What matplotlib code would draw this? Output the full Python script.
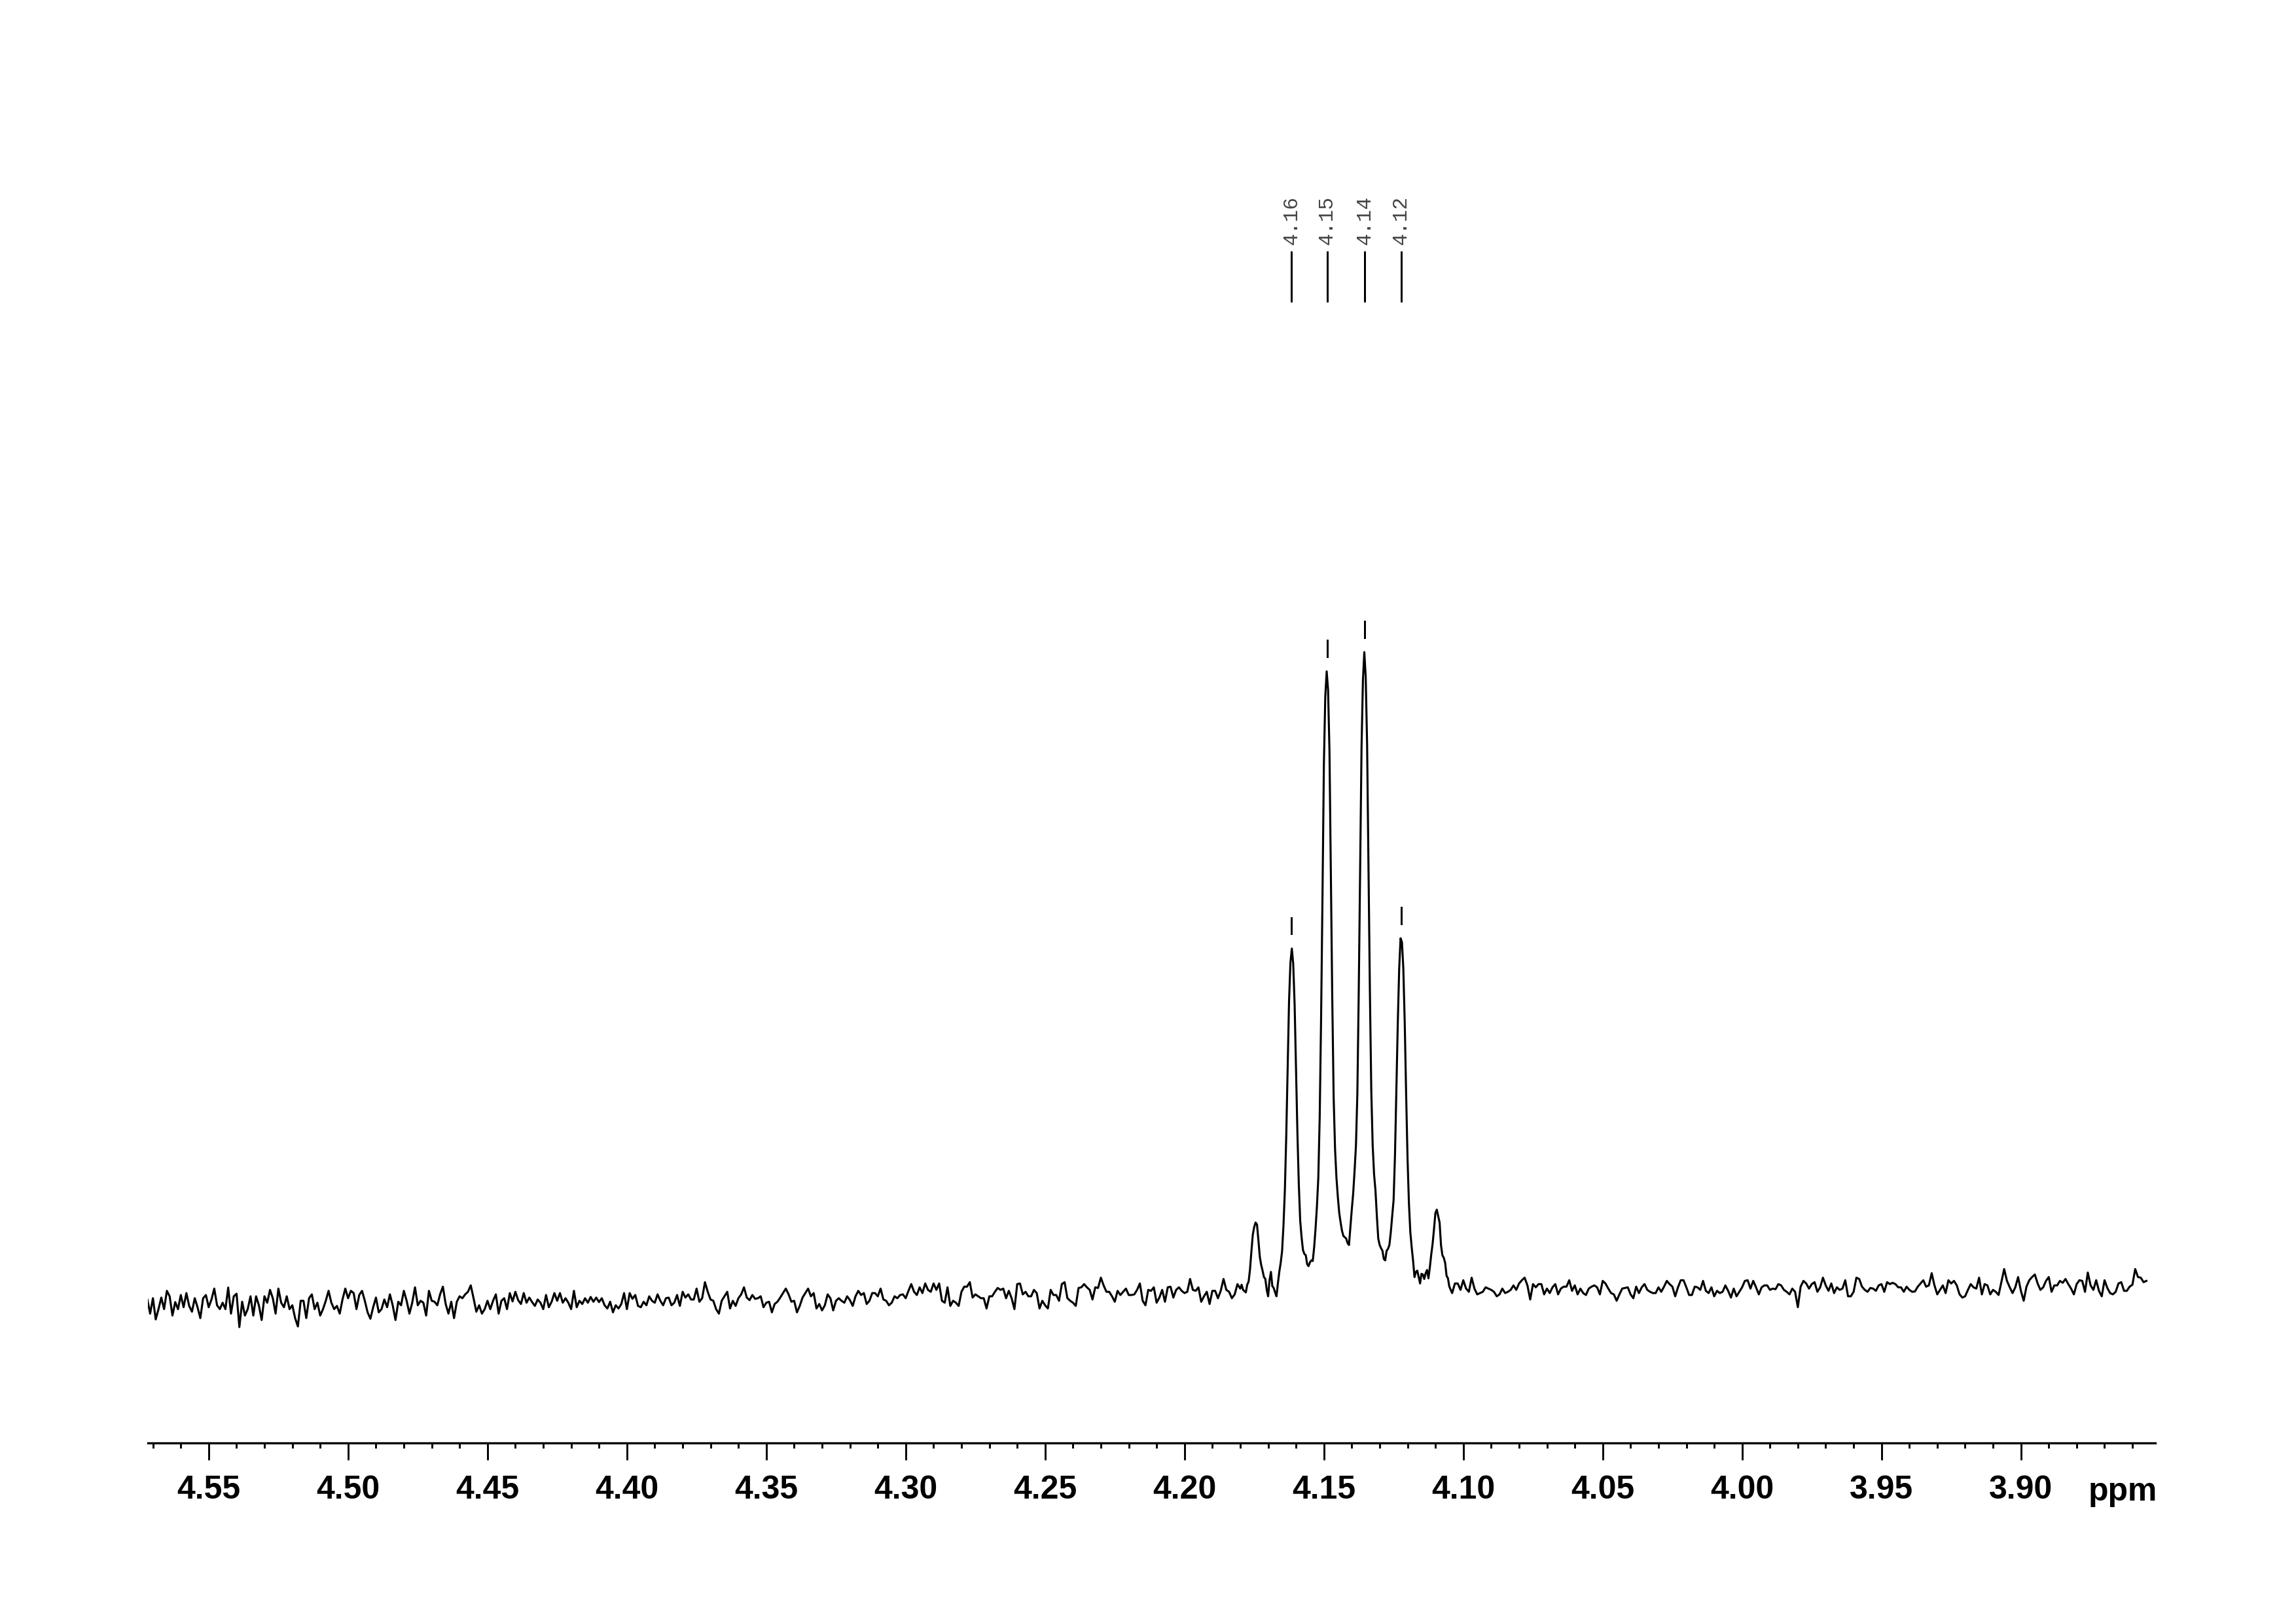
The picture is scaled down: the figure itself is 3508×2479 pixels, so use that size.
import numpy as np
import matplotlib
matplotlib.use("Agg")
import matplotlib.pyplot as plt
from matplotlib.ticker import MultipleLocator, FormatStrFormatter

# 1H NMR trace, intensity in arbitrary units (tallest line ~100)

# left baseline, 4.572 -> 4.181 ppm, one point every 0.001 ppm
left_start, left_step = 4.572, 0.001
left_int = [
    -0.5, -2.7, -0.3, -3.6, -2.0, -0.2, -2.0, 0.85, 0.0, -3.0,
    -0.9, -2.0, 0.2, -1.7, 0.5, -1.5, -2.4, -0.3, -1.7, -3.4,
    -0.3, 0.2, -1.7, -0.5, 1.2, -1.4, -2.0, -1.0, -2.0, 1.36,
    -2.7, 0.0, 0.4, -4.8, -0.85, -3.0, -2.0, 0.0, -3.0, 0.0,
    -1.4, -3.7, 0.0, -1.0, 1.0, -0.3, -2.7, 1.2, -1.0, -1.7,
    0.0, -2.0, -1.4, -3.4, -4.7, -0.7, -0.7, -3.4, -0.3, 0.3,
    -2.0, -1.0, -3.0, -2.0, -0.7, 0.85, -1.0, -2.0, -1.5, -2.7,
    -0.5, 1.2, -0.3, 0.85, 0.5, -2.0, 0.2, 0.85, -0.7, -2.5,
    -3.5, -1.7, -0.2, -2.5, -2.0, -0.5, -1.7, 0.3, -1.4, -3.7,
    -0.85, -1.4, 0.85, -0.7, -2.7, -1.0, 1.4, -1.4, -0.7, -1.0,
    -3.0, 0.85, -0.7, -0.85, -1.4, 0.3, 1.5, -1.2, -2.7, -0.85,
    -3.4, -0.85, 0.0, -0.3, 0.3, 0.7, 1.7, -0.3, -2.4, -1.4,
    -2.7,
    -2.0, -0.7, -2.0, -0.7, 0.3, -2.7, -0.7, -0.3, -2.0, 0.5,
    -0.8, 0.7, -0.6, -1.2, 0.5, -1.0, -0.2, -0.9, -1.5, -0.5,
    -1.0, -2.0, 0.2, -1.7, -0.85, 0.5, -0.7, 0.5, -1.0, -0.3,
    -1.0, -2.0, 0.85, -1.7, -0.7, -1.2, -0.3, -1.0, -0.1, -0.85,
    -0.2, -0.9, -0.3, -1.4, -1.9, -0.85, -2.5, -1.4, -1.9, -1.2,
    0.5, -2.0, 0.5, -0.4, 0.2, -1.5, -1.7, -0.85, -1.4, 0.0,
    -0.7, -1.0, 0.3, -0.7, -1.4, -0.3, -0.2, -1.4, -1.0, 0.2,
    -1.5, 0.7, -0.2, 0.3, -0.5, -0.5, 1.2, -0.85, -0.3, 2.2,
    0.7, -0.5, -0.7, -2.0, -2.7, -0.7, 0.0, 0.7, -1.9, -0.7,
    -1.5, -0.3, 0.3, 1.4, -0.2, -0.6, 0.2, -0.4, -0.3, 0.0,
    -1.7, -1.0, -0.85, -2.5, -1.2, -0.85, -0.2, 0.5, 1.2, 0.3,
    -0.85, -0.7, -2.5, -1.5, -0.2, 0.5, 1.2, 0.0,
    0.5, -1.9, -1.2, -2.2, -1.4, 0.3, -0.3, -2.2, -0.7, -0.3,
    -0.7, -1.0, 0.0, -0.6, -1.5, 0.0, 0.85, 0.2, 0.5, -1.2,
    -0.7, 0.5, 0.5, 0.0, 1.2, -0.5, -0.7, -1.4, -1.0, 0.0,
    -0.3, 0.2, 0.3, -0.3, 0.85, 1.9, 0.7, 0.2, 1.4, 0.5,
    2.0, 1.0, 0.7, 2.0, 1.0, 2.0, -0.7, -1.0, 1.4, -1.5,
    -0.7, -1.0, -1.5, 0.7, 1.5, 1.5, 2.2, -0.2, 0.3, 0.0,
    -0.3, -0.3, -1.9, 0.0, 0.0, 0.7, 1.3, 1.0, 1.2, -0.3,
    0.85, -0.3, -2.0, 1.9, 2.0, 0.3, 0.7, 0.0, 0.0, 1.0,
    0.5, -1.9, -0.7, -1.4, -1.9, 1.0, 0.2, 0.2, -0.7, 1.9,
    2.2, -0.3, -0.7, -1.0, -1.5, 1.3, 1.4, 1.9, 1.4, 1.0,
    -0.5, 1.4, 1.3, 2.9, 1.7, 0.7, 0.7, 0.0, -0.85, 0.85,
    0.2, 0.7, 1.2, 0.2, 0.2, 0.3, 1.0, 2.0, -0.7, -1.4, 1.0,
    0.85, 1.4, -1.0, -0.2, 1.0, -0.85, 1.4, 1.5, -0.2, 1.0,
    1.4, 0.85, 0.5, 0.7, 2.7, 1.0, 0.85, 1.4, -0.85, 0.0,
    0.7, -1.2, 0.85, 0.85, -0.3, 0.85, 2.7, 1.0, 0.7, -0.3, 0.3, 1.9,
]

# multiplet, 4.180 -> 4.105 ppm, one point every 0.0005 ppm
mid_start, mid_step = 4.180, 0.0005
mid_int = [
    1.2, 1.8, 1.0, 0.8, 0.6, 1.8, 2.3, 4.2, 7.0, 9.6,
    10.8, 11.5, 11.2, 8.8, 6.2, 4.9, 4.0, 3.0, 2.7, 1.0,
    0.0, 2.5, 3.8, 1.6, 1.3, 0.6, 0.0, 2.0, 3.8, 5.2,
    7.0, 11.0, 16.5, 25.0, 35.5, 46.0, 52.0, 54.2, 51.8, 45.5,
    35.5, 25.5, 17.5, 11.8, 9.2, 7.2, 6.6, 6.4, 5.0, 4.7,
    5.3, 5.6, 5.5, 7.6, 10.5, 14.0, 18.5, 28.0, 43.5, 62.5,
    83.0, 93.5, 97.4, 94.5, 85.0, 65.5, 46.5, 31.0, 23.0, 18.5,
    15.5, 13.0, 11.5, 10.2, 9.4, 9.2, 9.0, 8.3, 8.0, 10.8,
    13.5, 16.0, 19.5, 23.5, 31.5, 47.5, 66.5, 85.5, 96.0, 100.4,
    96.5, 86.0, 66.5, 47.5, 32.0, 23.5, 19.0, 16.5, 12.5, 9.0,
    8.0, 7.5, 7.1, 5.8, 5.6, 7.1, 7.4, 8.0, 10.0, 12.5,
    15.0, 22.0, 32.0, 42.5, 51.0, 55.8, 55.2, 51.0, 42.5, 31.5,
    21.5, 14.5, 10.0, 7.6, 5.5, 3.0, 3.8, 4.0, 3.0, 2.0,
    3.5, 3.4, 2.7, 3.6, 4.1, 2.8, 4.5, 6.5, 8.2, 10.5,
    13.0, 13.5, 12.5, 11.5, 8.0, 6.4, 6.0, 5.2, 3.2, 2.8, 1.5,
]

# right baseline, 4.104 -> 3.855 ppm, one point every 0.001 ppm
right_start, right_step = 4.104, 0.001
right_int = [
    0.5, 2.0, 2.0, 1.0, 2.5, 1.2, 0.7, 2.9, 1.2, 0.3,
    0.5, 0.7, 1.4, 1.2, 1.0, 0.7, 0.0, 0.3, 1.2, 0.5,
    0.7, 1.0, 1.7, 1.0, 2.0, 2.5, 2.9, 1.7, -0.5, 1.9,
    1.4, 1.9, 1.9, 0.3, 1.2, 0.5, 1.4, 1.9, 0.3, 1.2,
    1.5, 1.5, 2.5, 0.85, 1.7, 0.3, 1.2, 0.5, 0.2, 1.2,
    1.5, 1.7, 1.4, 0.3, 2.4, 2.0, 1.2, 0.5, 0.3, -0.7,
    0.3, 1.2, 1.3, 1.4, 0.3, -0.3, 1.5, 0.5, 1.4, 1.9,
    1.0, 0.7, 0.5, 0.5, 1.4, 0.7, 1.5, 2.4, 1.9, 1.5,
    0.0, 1.4, 2.5, 2.5, 1.4, 0.2, 0.2, 1.5, 1.4, 1.0,
    2.4, 0.85, 0.5, 1.4, 0.0, 0.85, 0.5, 0.7, 1.7, 0.85,
    -0.2, 1.2, 0.0, 0.7, 1.4, 2.4, 2.5, 1.2, 2.4, 1.4,
    0.3, 1.4, 1.7, 1.7, 1.0, 1.2, 1.1, 1.9, 1.7, 1.0,
    0.7, 0.3, 1.2, 0.7, -1.7, 1.5, 2.4,
    2.0, 1.2, 1.9, 2.2, 0.7, 1.4, 2.9, 1.7, 0.85, 2.0,
    0.5, 1.4, 1.0, 1.2, 2.5, 0.0, 0.0, 0.7, 2.9, 2.7,
    1.5, 1.0, 0.7, 1.3, 1.2, 0.85, 1.7, 1.9, 0.7, 2.2,
    1.9, 2.1, 1.9, 1.4, 1.4, 0.7, 1.5, 1.0, 0.7, 0.75,
    1.5, 2.0, 2.5, 1.5, 1.7, 3.6, 1.7, 0.3, 1.0, 1.7,
    0.5, 2.5, 2.0, 2.4, 1.7, 0.3, -0.2, 0.0, 1.0, 1.9,
    1.4, 1.2, 2.9, 0.3, 1.9, 1.7, 0.3, 1.0, 0.7, 0.2,
    2.2, 4.25, 2.4, 1.4, 0.5, 1.4, 3.0, 0.85, -0.7, 1.5,
    2.5, 3.0, 3.4, 2.0, 1.0, 1.4, 2.4, 3.0, 0.7, 1.7,
    1.7, 2.4, 2.1, 2.7, 1.9, 1.2, 0.3, 1.9, 2.5, 2.4,
    0.7, 3.7, 1.7, 1.0, 2.5, 0.85, 0.0, 2.5, 1.3, 0.5,
    0.3, 0.7, 2.0, 2.2, 0.85, 0.85, 1.5, 1.8, 4.25, 3.0,
    2.9, 2.2, 2.4,
]

# picked peaks
peak_ppm = [4.1617, 4.1488, 4.1354, 4.1223]
peak_labels = ["4.16", "4.15", "4.14", "4.12"]

x_left, x_right = 4.5718, 3.8518


def segment(start, step, values):
    return start - step * np.arange(len(values))


ppm = np.concatenate([segment(left_start, left_step, left_int),
                      segment(mid_start, mid_step, mid_int),
                      segment(right_start, right_step, right_int)])
intensity = np.array(left_int + mid_int + right_int)

fig = plt.figure(figsize=(3508 / 300, 2479 / 300), dpi=300)
ax = fig.add_axes([0.06442, 0.11093, 0.87429, 0.77209])

ax.plot(ppm, intensity, color="black", lw=0.75)

# peak markers and labels
for p, lab in zip(peak_ppm, peak_labels):
    near = np.abs(ppm - p) < 0.0012
    top = intensity[near].max()
    ax.plot([p, p], [top + 2.3, top + 4.8], color="black", lw=0.72)
    ax.plot([p, p], [155.1, 162.8], color="black", lw=0.72, clip_on=False)
    ax.text(p, 163.9, lab, rotation=90, ha="center", va="bottom",
            fontsize=7.5, family="Liberation Mono", color="#444444")

ax.set_xlim(x_left, x_right)
ax.set_ylim(-22.86, 172.45)

for s in ["top", "left", "right"]:
    ax.spines[s].set_visible(False)
ax.spines["bottom"].set_linewidth(0.8)
ax.yaxis.set_visible(False)

ax.xaxis.set_major_locator(MultipleLocator(0.05))
ax.xaxis.set_minor_locator(MultipleLocator(0.01))
ax.xaxis.set_major_formatter(FormatStrFormatter("%.2f"))
ax.tick_params(axis="x", which="major", direction="out", length=6.2,
               width=0.7, pad=5.5, labelsize=12)
ax.tick_params(axis="x", which="minor", direction="out", length=2.0, width=0.7)
for t in ax.get_xticklabels():
    t.set_fontweight("bold")
    t.set_family("Liberation Sans")

fig.text(3243 / 3508, (2479 - 2292) / 2479, "ppm", ha="center", va="baseline",
         fontsize=12, fontweight="bold", family="Liberation Sans")

fig.savefig("out.png", dpi=300)
